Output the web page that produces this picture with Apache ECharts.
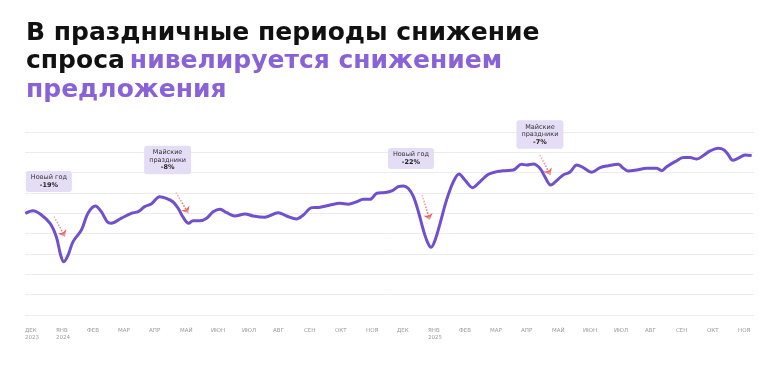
<!DOCTYPE html>
<html>
<head>
<meta charset="utf-8">
<script src="https://cdn.jsdelivr.net/npm/echarts@6/dist/echarts.min.js"></script>
<style>
html,body{margin:0;padding:0;background:#fff;}
#chart{width:784px;height:368px;}
</style>
</head>
<body>
<div id="chart"></div>
<script>
// Month tick labels (one per month, starting Dec 2023)
const monthLabels = ['ДЕК\n2023','ЯНВ\n2024','ФЕВ','МАР','АПР','МАЙ','ИЮН','ИЮЛ','АВГ','СЕН','ОКТ','НОЯ',
  'ДЕК','ЯНВ\n2025','ФЕВ','МАР','АПР','МАЙ','ИЮН','ИЮЛ','АВГ','СЕН','ОКТ','НОЯ'];

// Time position in months since start of Dec 2023
const timePos = [0.01,0.26,0.53,0.81,1.01,1.15,1.25,1.39,1.55,1.82,2.03,2.27,2.46,2.65,2.78,3.11,3.43,3.65,3.86,4.07,
  4.35,4.56,4.77,4.94,5.10,5.28,5.42,5.64,5.86,6.07,6.29,6.51,6.77,7.10,7.36,7.74,8.17,8.44,8.76,8.98,
  9.25,9.52,9.84,10.16,10.43,10.70,10.91,11.13,11.35,11.61,11.83,12.04,12.20,12.36,12.53,12.69,12.85,12.99,13.10,13.23,
  13.39,13.60,13.82,14.00,14.19,14.44,14.68,14.95,15.22,15.48,15.75,16.02,16.18,16.40,16.61,16.77,16.96,17.15,17.36,17.58,
  17.80,18.01,18.28,18.55,18.82,19.14,19.30,19.46,19.73,20.05,20.38,20.54,20.70,20.97,21.24,21.45,21.67,21.88,22.10,22.36,
  22.55,22.69,22.83,23.01,23.23,23.44];

// Demand index values (relative units)
const demand = [50.0,51.3,49.2,45.1,38.5,29.5,26.2,29.5,36.1,41.8,50.0,53.6,50.8,45.9,45.1,47.6,50.0,50.8,53.3,54.6,
  58.2,57.4,55.7,52.5,48.1,45.1,46.4,46.4,47.6,50.8,52.0,50.3,48.7,49.7,48.7,48.1,50.3,48.7,47.2,49.2,
  52.8,53.0,54.1,54.9,54.5,55.7,56.9,56.9,59.9,60.2,61.0,63.1,63.5,62.3,58.2,50.8,41.8,35.6,33.3,36.9,
  45.1,56.6,65.6,69.4,66.4,62.6,65.6,69.2,70.5,71.0,71.3,74.1,73.8,74.3,72.2,68.0,63.9,66.1,68.9,70.3,
  73.8,72.5,70.2,72.5,73.4,74.1,72.2,70.8,71.3,72.2,72.2,71.0,72.9,75.4,77.4,77.4,76.7,78.4,80.7,82.0,
  81.2,78.7,76.1,77.1,78.7,78.4];

// Holiday annotations
const noteTitles = ['Новый год','Майские\nпраздники','Новый год','Майские\nпраздники'];
const noteValues = ['-19%','-8%','-22%','-7%'];

const chart = echarts.init(document.getElementById('chart'), null, {renderer:'canvas'});

const noteBoxCoords = [[0.77,65.7],[4.60,76.2],[12.45,77.0],[16.61,88.8]];
const arrowCoords = [
  [[0.94,48.4],[1.29,38.5]],
  [[4.87,60.3],[5.27,50.0]],
  [[12.81,59.0],[13.06,46.7]],
  [[16.61,78.7],[16.95,68.9]]
];

const lineColor = '#7050cc';
const arrowGrad = new echarts.graphic.LinearGradient(0,0,0,1,[
  {offset:0,color:'#f3c9c9'},{offset:1,color:'#e23b3b'}
]);

chart.setOption({
  animation:false,
  backgroundColor:'#ffffff',
  title:{
    left:21, top:14,
    text:'{a|В праздничные периоды снижение}\n{a|спроса} {b|нивелируется снижением}\n{b|предложения}',
    textStyle:{
      rich:{
        a:{fontFamily:'DejaVu Sans',fontWeight:'bold',fontSize:25,color:'#111111',lineHeight:28.5},
        b:{fontFamily:'DejaVu Sans',fontWeight:'bold',fontSize:25,color:'#8a62d8',lineHeight:28.5}
      }
    }
  },
  grid:{left:25,right:30.5,top:132,bottom:53},
  xAxis:{
    type:'value', min:0, max:23.5, interval:1,
    axisLine:{show:false}, axisTick:{show:false}, splitLine:{show:false},
    axisLabel:{
      showMaxLabel:false,
      align:'left', verticalAlign:'top', margin:12,
      fontFamily:'DejaVu Sans', fontSize:5.5, color:'#9a9a9a', lineHeight:7,
      formatter:function(v){ const i=Math.round(v); return monthLabels[i]||''; }
    }
  },
  yAxis:{
    type:'value', min:0, max:90, interval:10,
    axisLine:{show:false}, axisTick:{show:false}, axisLabel:{show:false},
    splitLine:{lineStyle:{color:'#ececec',width:1}}
  },
  series:[{
    type:'line',
    data: timePos.map((t,i)=>[t,demand[i]]),
    smooth:0.35,
    showSymbol:false,
    lineStyle:{color:lineColor,width:3},
    z:3,
    markPoint:{
      silent:true,
      symbol:'circle', symbolSize:0,
      data: noteBoxCoords.map((c,i)=>({
        coord:c,
        label:{
          show:true, position:'inside',
          formatter:'{n|'+noteTitles[i].split('\n').join('}\n{n|')+'}\n{b|'+noteValues[i]+'}',
          backgroundColor:'#e4ddf5', borderRadius:3, padding:[3,5],
          rich:{
            n:{fontFamily:'DejaVu Sans',fontSize:6.5,color:'#333333',lineHeight:7.5,align:'center'},
            b:{fontFamily:'DejaVu Sans',fontSize:6.5,fontWeight:'bold',color:'#222222',lineHeight:7.5,align:'center'}
          }
        }
      }))
    },
    markLine:{
      silent:true,
      symbol:['none','arrow'], symbolSize:[7,6],
      label:{show:false},
      lineStyle:{type:[1.5,1.5],width:1.5,color:arrowGrad},
      data: arrowCoords.map(a=>[{coord:a[0]},{coord:a[1],itemStyle:{color:'#e23b3b'}}])
    }
  }]
});
</script>
</body>
</html>
